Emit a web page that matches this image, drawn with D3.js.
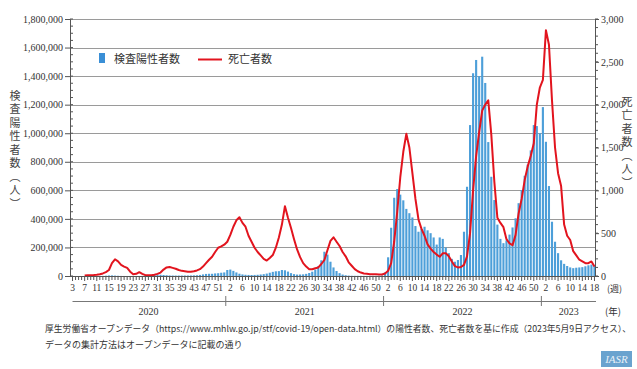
<!DOCTYPE html>
<html><head><meta charset="utf-8">
<script src="https://cdn.jsdelivr.net/npm/d3@7"></script>
<style>body{margin:0;background:#fff}svg{display:block}</style>
</head><body><svg id="c" width="637" height="369"></svg>
<script>
// ---- data ----
const yearSpans = [[2020, 3, 53], [2021, 1, 52], [2022, 1, 52], [2023, 1, 18]];
const yearLabels = ["2020", "2021", "2022", "2023"];
const casesTicks = [0, 200000, 400000, 600000, 800000, 1000000, 1200000, 1400000, 1600000, 1800000];
const deathTicks = [0, 500, 1000, 1500, 2000, 2500, 3000];

const cases2020 = [0,0,0,5,20,80,150,250,300,400,900,2300,3800,4200,2800,1600,600,300,200,250,300,350,450,800,1400,2800,4500,6500,8500,8700,7000,5500,4000,3500,3300,3300,3500,3800,3700,3800,4500,5300,7500,11000,14500,15500,15500,18000,19500,23000,25000];
const cases2021 = [42000,45000,36000,25000,16000,11000,8500,7500,7000,7500,8500,10500,13000,17000,23000,29000,33000,34000,42000,40000,31000,20000,13000,10000,10500,11500,15000,21000,30000,45000,70000,110000,170000,150000,100000,60000,35000,20000,10000,5500,3000,1800,1500,1300,1100,900,800,900,1000,1100,1500,3000];
const cases2022 = [25000,131000,338000,548000,609000,570000,530000,470000,440000,410000,350000,310000,330000,345000,320000,300000,270000,220000,270000,260000,200000,160000,120000,100000,112000,147000,310000,625000,1057000,1420000,1513000,1400000,1536000,1352000,938000,695000,532000,360000,260000,230000,250000,290000,340000,404000,510000,602000,702000,780000,880000,1057000,1050000,1000000];
const cases2023 = [1183000,940000,630000,380000,240000,160000,110000,85000,70000,60000,55000,58000,60000,62000,68000,75000,80000,70000];

const deaths2020 = [null,null,null,null,5,8,10,12,15,20,30,45,70,150,195,170,130,110,95,50,20,25,45,25,10,10,10,15,25,40,75,100,105,95,85,70,60,55,50,50,55,65,80,110,150,190,225,280,330,345,365];
const deaths2021 = [400,480,575,650,685,620,575,470,400,330,280,240,200,180,210,245,330,450,600,815,680,560,430,310,220,150,110,80,78,90,100,140,187,300,410,452,400,350,280,230,160,120,80,55,40,30,25,20,20,20,18,18];
const deaths2022 = [30,60,150,400,750,1150,1450,1660,1500,1200,900,660,550,470,370,320,280,250,225,265,265,230,170,115,100,105,130,230,500,1000,1400,1680,1930,2000,2050,1650,1100,680,620,570,430,380,360,480,730,900,1120,1280,1400,1550,2000,2200];
const deaths2023 = [2290,2870,2700,2050,1500,1200,1050,600,470,420,290,240,190,170,150,150,170,110];

// ---- build table ----
const casesByYear = [cases2020, cases2021, cases2022, cases2023];
const deathsByYear = [deaths2020, deaths2021, deaths2022, deaths2023];
const rows = [];
yearSpans.forEach(([yr, a, b], k) => {
  for (let w = a; w <= b; w++) {
    rows.push({ idx: rows.length, year: yr, week: w,
      cases: casesByYear[k][w - a], deaths: deathsByYear[k][w - a] });
  }
});

const svg = d3.select("#c");
const L = 71, R = 596, T = 19, B = 276;
const x = d3.scaleBand().domain(rows.map(d => d.idx)).range([L, R]).paddingInner(0.3).paddingOuter(0.15);
const xc = i => x(i) + x.bandwidth() / 2;
const yC = d3.scaleLinear().domain([0, 1800000]).range([B, T]);
const yD = d3.scaleLinear().domain([0, 3000]).range([B, T]);
const serif = "'Liberation Serif','DejaVu Serif',serif";
const jp = "'Noto Sans CJK JP','Noto Sans CJK SC',sans-serif";

// gridlines
svg.append("g").selectAll("line").data(casesTicks.slice(1)).join("line")
  .attr("x1", 70).attr("x2", 595).attr("y1", d => Math.round(yC(d)) + 0.5).attr("y2", d => Math.round(yC(d)) + 0.5)
  .attr("stroke", "#9a9a9a").attr("stroke-width", 1);

// bars
svg.append("g").selectAll("rect").data(rows.filter(d => d.cases > 0)).join("rect")
  .attr("x", d => x(d.idx)).attr("width", x.bandwidth())
  .attr("y", d => yC(d.cases)).attr("height", d => B - yC(d.cases))
  .attr("fill", "#4d9fd9");

// death line
const line = d3.line().defined(d => d.deaths != null).x(d => xc(d.idx)).y(d => yD(d.deaths));
svg.append("path").datum(rows).attr("d", line).attr("fill", "none")
  .attr("stroke", "#e2141e").attr("stroke-width", 2).attr("stroke-linejoin", "round");

// left axis
const gl = svg.append("g").attr("transform", "translate(70,0)")
  .call(d3.axisLeft(yC).tickValues(casesTicks).tickSize(5).tickPadding(2).tickFormat(d3.format(",")));
gl.selectAll("text").attr("font-family", serif).attr("font-size", 10).attr("fill", "#333");
gl.selectAll("line,path").attr("stroke", "#555");
gl.append("g").selectAll("line").data(d3.range(0, 1800001, 50000)).join("line")
  .attr("x1", 0).attr("x2", 3).attr("y1", d => yC(d)).attr("y2", d => yC(d)).attr("stroke", "#555");

// right axis
const gr = svg.append("g").attr("transform", "translate(595,0)")
  .call(d3.axisRight(yD).tickValues(deathTicks).tickSize(4).tickPadding(2).tickFormat(d3.format(",")));
gr.selectAll("text").attr("font-family", serif).attr("font-size", 10).attr("fill", "#333");
gr.selectAll("line,path").attr("stroke", "#555");
gr.append("g").selectAll("line").data(d3.range(0, 3001, 100)).join("line")
  .attr("x1", 0).attr("x2", 3).attr("y1", d => yD(d)).attr("y2", d => yD(d)).attr("stroke", "#555");

// x axis
const gx = svg.append("g");
gx.append("line").attr("x1", 70).attr("x2", 596).attr("y1", B + 0.5).attr("y2", B + 0.5).attr("stroke", "#555");
gx.selectAll("line.t").data(rows).join("line").attr("class", "t")
  .attr("x1", d => xc(d.idx)).attr("x2", d => xc(d.idx)).attr("y1", B).attr("y2", d => d.idx % 4 === 0 ? B + 5 : B + 4)
  .attr("stroke", "#555");
gx.selectAll("text.w").data(rows.filter(d => d.idx % 4 === 0)).join("text").attr("class", "w")
  .attr("x", d => xc(d.idx)).attr("y", 291).attr("text-anchor", "middle")
  .attr("font-family", serif).attr("font-size", 9.5).attr("fill", "#333").text(d => d.week);
svg.append("text").attr("x", 607).attr("y", 292).attr("font-family", jp).attr("font-size", 9).attr("fill", "#333").text("(週)");

// year brackets
const bounds = [];
yearSpans.forEach(([yr]) => {
  const r = rows.filter(d => d.year === yr);
  bounds.push([r[0].idx, r[r.length - 1].idx]);
});
svg.append("line").attr("x1", xc(0)).attr("x2", R).attr("y1", 301.5).attr("y2", 301.5).attr("stroke", "#777");
bounds.slice(1).forEach(([a]) => {
  const bx = (xc(a - 1) + xc(a)) / 2;
  svg.append("line").attr("x1", bx).attr("x2", bx).attr("y1", 296).attr("y2", 306).attr("stroke", "#777");
});
bounds.forEach(([a, b], k) => {
  svg.append("text").attr("x", (xc(a) + xc(b)) / 2).attr("y", 315).attr("text-anchor", "middle")
    .attr("font-family", serif).attr("font-size", 10).attr("fill", "#333").text(yearLabels[k]);
});
svg.append("text").attr("x", 605).attr("y", 315).attr("font-family", jp).attr("font-size", 9.5).attr("fill", "#333").text("(年)");

// axis titles (vertical, single text each)
function vtext(xp, y0, str) {
  svg.append("text").attr("x", xp).attr("y", y0)
    .style("writing-mode", "vertical-rl").style("letter-spacing", "2.5px")
    .attr("font-family", jp).attr("font-size", 11).attr("fill", "#444").text(str);
}
vtext(15, 90, "検査陽性者数（人）");
vtext(627, 96, "死亡者数（人）");

// legend
svg.append("rect").attr("x", 99).attr("y", 53).attr("width", 6).attr("height", 10).attr("fill", "#3a8fd6");
svg.append("text").attr("x", 114).attr("y", 63).attr("font-family", jp).attr("font-size", 11).attr("fill", "#333").text("検査陽性者数");
svg.append("line").attr("x1", 198).attr("x2", 222).attr("y1", 59.5).attr("y2", 59.5).attr("stroke", "#e2141e").attr("stroke-width", 2);
svg.append("text").attr("x", 228).attr("y", 63).attr("font-family", jp).attr("font-size", 11).attr("fill", "#333").text("死亡者数");

// source notes
svg.append("text").attr("x", 45).attr("y", 332).attr("font-family", jp).attr("font-size", 8.6).attr("fill", "#333")
  .attr("textLength", 586).attr("lengthAdjust", "spacingAndGlyphs")
  .text("厚生労働省オープンデータ（https://www.mhlw.go.jp/stf/covid-19/open-data.html）の陽性者数、死亡者数を基に作成（2023年5月9日アクセス）、");
svg.append("text").attr("x", 45).attr("y", 348).attr("font-family", jp).attr("font-size", 9).attr("fill", "#333")
  .text("データの集計方法はオープンデータに記載の通り");

// logo
svg.append("rect").attr("x", 601).attr("y", 351).attr("width", 31).attr("height", 16).attr("fill", "#6aa3cf");
svg.append("text").attr("x", 616.5).attr("y", 363).attr("text-anchor", "middle").attr("font-family", serif)
  .attr("font-style", "italic").attr("font-size", 11).attr("fill", "#e8f1f8").text("IASR");
</script></body></html>
